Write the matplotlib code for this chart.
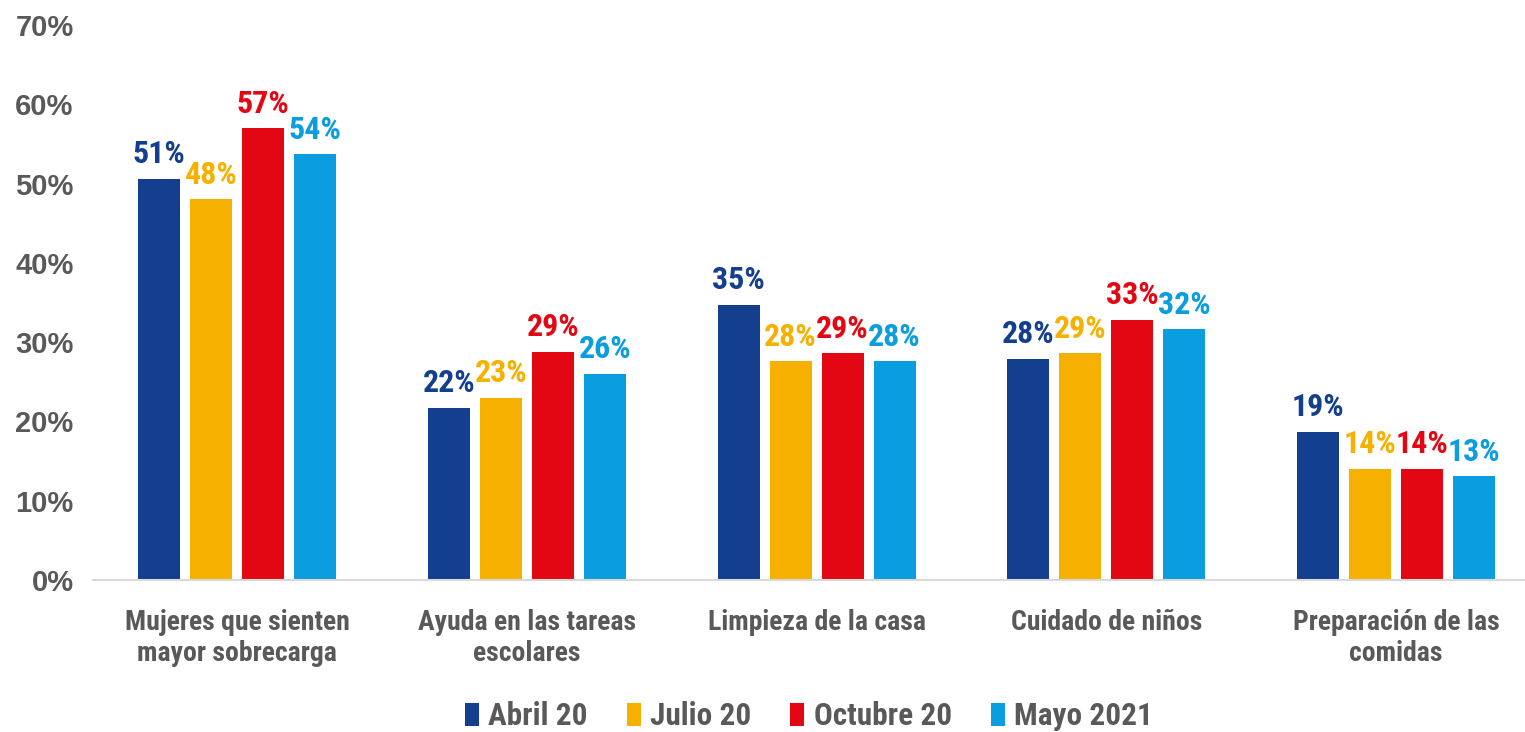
import matplotlib

matplotlib.use("Agg")
import matplotlib.pyplot as plt
import numpy as np

categories = [
    "Mujeres que sienten\nmayor sobrecarga",
    "Ayuda en las tareas\nescolares",
    "Limpieza de la casa",
    "Cuidado de niños",
    "Preparación de las\ncomidas",
]
series = ["Abril 20", "Julio 20", "Octubre 20", "Mayo 2021"]
abril = [50.6, 21.7, 34.7, 27.9, 18.7]
julio = [48.0, 23.0, 27.6, 28.6, 14.0]
octubre = [57.0, 28.8, 28.6, 32.8, 14.0]
mayo = [53.7, 26.0, 27.6, 31.6, 13.1]
yticks = [0, 10, 20, 30, 40, 50, 60, 70]

colors = ["#143E8E", "#F6B000", "#E30613", "#0A9DDF"]
gray = "#595959"
narrow = ["DejaVu Sans Condensed", "Roboto Condensed", "Liberation Sans Narrow", "Liberation Sans"]
wide = ["Liberation Sans", "DejaVu Sans"]

fig = plt.figure(figsize=(15.25, 7.32), dpi=100)
ax = fig.add_axes([0.061, 0.2077, 0.939, 0.758])

x = np.arange(len(categories))
pitch = 0.1795
width = 0.145
for i, (name, vals, col) in enumerate(zip(series, [abril, julio, octubre, mayo], colors)):
    pos = x + (i - 1.5) * pitch
    ax.bar(pos, vals, width, color=col, label=name, zorder=2)
    for px, v in zip(pos, vals):
        ax.text(px, v + 1.2, f"{v:.0f}%", ha="center", va="bottom", color=col,
                fontsize=23, fontweight="bold", family=narrow)

ax.set_xlim(-0.497, 4.445)
ax.set_ylim(0, 70)
ax.set_yticks(yticks)
ax.set_yticklabels([f"{t}%" for t in yticks], fontsize=21, fontweight="bold",
                   color=gray, family=wide)
ax.set_xticks(x)
ax.set_xticklabels(categories, fontsize=20, fontweight="bold", color=gray,
                   family=narrow, linespacing=1.2)
ax.tick_params(axis="both", length=0)
ax.tick_params(axis="x", pad=21)
ax.tick_params(axis="y", pad=14)
for s in ["top", "right", "left"]:
    ax.spines[s].set_visible(False)
ax.spines["bottom"].set_color("#D9D9D9")
ax.spines["bottom"].set_linewidth(1.5)

leg = ax.legend(loc="center", bbox_to_anchor=(0.5, -0.246), ncol=4, frameon=False,
                handlelength=0.45, handleheight=0.75, handletextpad=0.3, columnspacing=1.25,
                borderpad=0.2, prop={"family": narrow, "weight": "bold", "size": 22.5})
for t in leg.get_texts():
    t.set_color(gray)

fig.savefig("out.png", dpi=100)
